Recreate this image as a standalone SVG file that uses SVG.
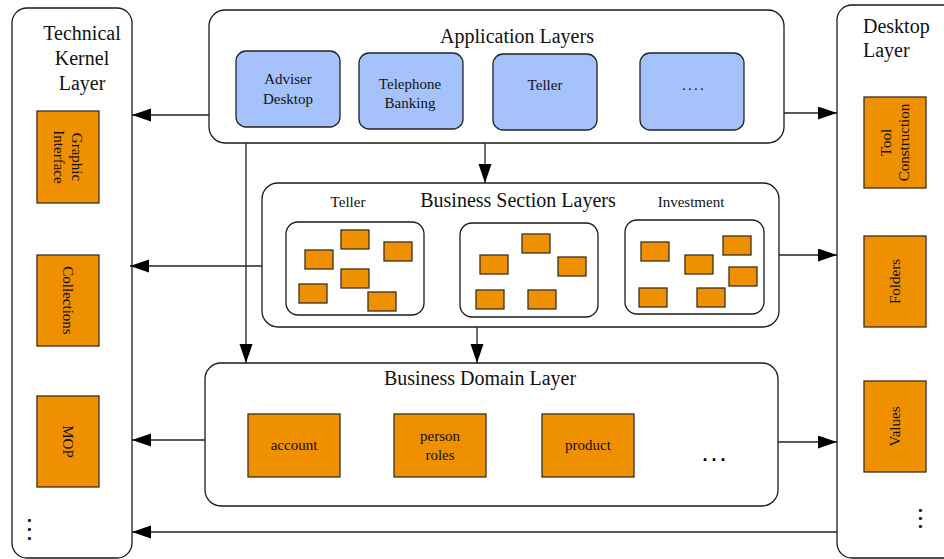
<svg xmlns="http://www.w3.org/2000/svg" width="944" height="559" viewBox="0 0 944 559">
  <defs>
    <marker id="arrow" markerUnits="userSpaceOnUse" markerWidth="20" markerHeight="14" refX="19" refY="6.5" orient="auto">
      <path d="M0,0 L19,6.5 L0,13 Z" fill="#000"/>
    </marker>
    <style>
      .frame { fill: #fff; stroke: #1a1a1a; stroke-width: 1.3; }
      .app { fill: #a5c2fc; stroke: #222; stroke-width: 1.3; }
      .comp { fill: #ef9000; stroke: #3b3020; stroke-width: 1.3; }
      .big { font-family: "Liberation Serif", "Times New Roman", serif; font-size: 20px; fill: #111; }
      .small { font-family: "Liberation Serif", "Times New Roman", serif; font-size: 15px; fill: #111; }
      .mid { text-anchor: middle; }
      .dots { font-family: "Liberation Sans", Arial, sans-serif; font-weight: bold; font-size: 18px; letter-spacing: 4px; fill: #000; }
      .conn line { stroke: #222; stroke-width: 1.3; fill: none; }
    </style>
  </defs>

  <rect width="944" height="559" fill="#fff"/>

  <!-- Technical Kernel Layer -->
  <g id="technical-kernel">
    <rect class="frame" x="12" y="8" width="120" height="550" rx="15"/>
    <text class="big mid" x="82" y="40">Technical</text>
    <text class="big mid" x="82" y="65">Kernel</text>
    <text class="big mid" x="82" y="90">Layer</text>
    <g id="graphic-interface">
      <rect class="comp" x="37" y="111" width="62" height="92"/>
      <text class="small mid" transform="translate(68,157) rotate(90)" dominant-baseline="central"><tspan x="0" y="-9">Graphic</tspan><tspan x="0" y="9">Interface</tspan></text>
    </g>
    <g id="collections">
      <rect class="comp" x="37" y="255" width="62" height="91"/>
      <text class="small mid" transform="translate(68,300.5) rotate(90)" dominant-baseline="central">Collections</text>
    </g>
    <g id="mop">
      <rect class="comp" x="37" y="396" width="62" height="91"/>
      <text class="small mid" transform="translate(68,441.5) rotate(90)" dominant-baseline="central">MOP</text>
    </g>
    <text class="dots" transform="translate(34,518) rotate(90)" dominant-baseline="central">...</text>
  </g>

  <!-- Desktop Layer -->
  <g id="desktop-layer">
    <rect class="frame" x="837" y="5" width="140" height="553" rx="15"/>
    <text class="big" x="863" y="33">Desktop</text>
    <text class="big" x="863" y="57">Layer</text>
    <g id="tool-construction">
      <rect class="comp" x="864" y="97" width="62" height="91"/>
      <text class="small mid" transform="translate(895,142.5) rotate(-90)" dominant-baseline="central"><tspan x="0" y="-9">Tool</tspan><tspan x="0" y="9">Construction</tspan></text>
    </g>
    <g id="folders">
      <rect class="comp" x="864" y="236" width="62" height="91"/>
      <text class="small mid" transform="translate(895,281.5) rotate(-90)" dominant-baseline="central">Folders</text>
    </g>
    <g id="values">
      <rect class="comp" x="864" y="381" width="62" height="91"/>
      <text class="small mid" transform="translate(895,426.5) rotate(-90)" dominant-baseline="central">Values</text>
    </g>
    <text class="dots" transform="translate(925,508) rotate(90)" dominant-baseline="central" style="letter-spacing:3px">...</text>
  </g>

  <!-- Application Layers -->
  <g id="application-layers">
    <rect class="frame" x="209" y="10" width="575" height="133" rx="16"/>
    <text class="big mid" x="517" y="43">Application Layers</text>
    <g id="adviser-desktop">
      <rect class="app" x="236" y="51" width="104" height="76" rx="10"/>
      <text class="small mid" x="288" y="84">Adviser</text>
      <text class="small mid" x="288" y="104">Desktop</text>
    </g>
    <g id="telephone-banking">
      <rect class="app" x="359" y="53" width="104" height="76" rx="10"/>
      <text class="small mid" x="410" y="89">Telephone</text>
      <text class="small mid" x="410" y="108">Banking</text>
    </g>
    <g id="teller-app">
      <rect class="app" x="493" y="54" width="104" height="76" rx="10"/>
      <text class="small mid" x="545" y="90">Teller</text>
    </g>
    <g id="more-apps">
      <rect class="app" x="640" y="53" width="104" height="77" rx="10"/>
      <text class="small mid" x="694" y="90" style="letter-spacing:2.2px">....</text>
    </g>
  </g>

  <!-- Business Section Layers -->
  <g id="business-section-layers">
    <rect class="frame" x="262" y="183" width="517" height="144" rx="16"/>
    <text class="big mid" x="518" y="207">Business Section Layers</text>
    <text class="small mid" x="348" y="207">Teller</text>
    <text class="small mid" x="691" y="207">Investment</text>
    <g id="section-teller">
      <rect class="frame" x="286" y="222" width="138" height="93" rx="12"/>
      <rect class="comp" x="341" y="230" width="28" height="19"/>
      <rect class="comp" x="305" y="250" width="28" height="19"/>
      <rect class="comp" x="384" y="242" width="28" height="19"/>
      <rect class="comp" x="341" y="269" width="28" height="19"/>
      <rect class="comp" x="299" y="284" width="28" height="19"/>
      <rect class="comp" x="368" y="292" width="28" height="19"/>
    </g>
    <g id="section-middle">
      <rect class="frame" x="460" y="223" width="138" height="94" rx="12"/>
      <rect class="comp" x="522" y="234" width="28" height="19"/>
      <rect class="comp" x="480" y="255" width="28" height="19"/>
      <rect class="comp" x="558" y="257" width="28" height="19"/>
      <rect class="comp" x="476" y="290" width="28" height="19"/>
      <rect class="comp" x="528" y="290" width="28" height="19"/>
    </g>
    <g id="section-investment">
      <rect class="frame" x="625" y="220" width="139" height="94" rx="12"/>
      <rect class="comp" x="641" y="242" width="28" height="19"/>
      <rect class="comp" x="723" y="236" width="28" height="19"/>
      <rect class="comp" x="685" y="255" width="28" height="19"/>
      <rect class="comp" x="729" y="267" width="28" height="19"/>
      <rect class="comp" x="639" y="288" width="28" height="19"/>
      <rect class="comp" x="697" y="288" width="28" height="19"/>
    </g>
  </g>

  <!-- Business Domain Layer -->
  <g id="business-domain-layer">
    <rect class="frame" x="205" y="363" width="573" height="143" rx="16"/>
    <text class="big mid" x="480" y="385">Business Domain Layer</text>
    <g id="account">
      <rect class="comp" x="248" y="414" width="92" height="63"/>
      <text class="small mid" x="294" y="450">account</text>
    </g>
    <g id="person-roles">
      <rect class="comp" x="394" y="414" width="92" height="63"/>
      <text class="small mid" x="440" y="441">person</text>
      <text class="small mid" x="440" y="460">roles</text>
    </g>
    <g id="product">
      <rect class="comp" x="542" y="414" width="92" height="63"/>
      <text class="small mid" x="588" y="450">product</text>
    </g>
    <text class="dots mid" x="716" y="461" style="letter-spacing:4px">...</text>
  </g>

  <!-- Connectors -->
  <g class="conn" id="connectors">
    <line x1="209" y1="115" x2="132" y2="115" marker-end="url(#arrow)"/>
    <line x1="784" y1="113" x2="837" y2="113" marker-end="url(#arrow)"/>
    <line x1="485" y1="143" x2="485" y2="183" marker-end="url(#arrow)"/>
    <line x1="246" y1="143" x2="246" y2="363" marker-end="url(#arrow)"/>
    <line x1="262" y1="266" x2="130" y2="266" marker-end="url(#arrow)"/>
    <line x1="779" y1="255" x2="837" y2="255" marker-end="url(#arrow)"/>
    <line x1="477" y1="327" x2="477" y2="363" marker-end="url(#arrow)"/>
    <line x1="205" y1="440" x2="132" y2="440" marker-end="url(#arrow)"/>
    <line x1="778" y1="442" x2="837" y2="442" marker-end="url(#arrow)"/>
    <line x1="837" y1="532" x2="132" y2="532" marker-end="url(#arrow)"/>
  </g>
</svg>
